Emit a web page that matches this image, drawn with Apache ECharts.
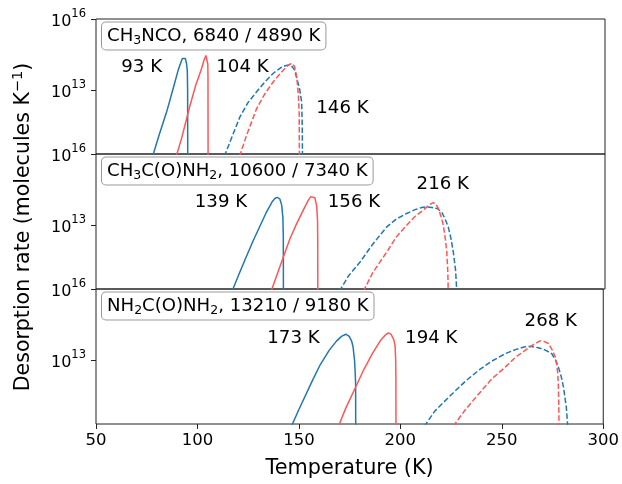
<!DOCTYPE html>
<html><head><meta charset="utf-8">
<script src="https://cdn.jsdelivr.net/npm/echarts@6/dist/echarts.min.js"></script>
<style>html,body{margin:0;padding:0;background:#fff}#c{width:622px;height:484px}</style>
</head><body><div id="c"></div>
<script>
// ---------- data ----------
const xTicks = [50, 100, 150, 200, 250, 300];
const yTickExponents = [13, 16];           // labelled decades (10^13, 10^16)
const yRange = [10.3, 16];                 // log10 of desorption rate
const panelTitles = [
  'CH{s|3}NCO, 6840 / 4890 K',
  'CH{s|3}C(O)NH{s|2}, 10600 / 7340 K',
  'NH{s|2}C(O)NH{s|2}, 13210 / 9180 K'
];
const peakLabels = [
  ['93 K', '104 K', '146 K'],
  ['139 K', '156 K', '216 K'],
  ['173 K', '194 K', '268 K']
];
// each point: [temperature (K), log10 desorption rate]
const p1BlueSolid = [[77.8,10.2],[81,11.1],[84.7,12.08],[88,13.1],[90.4,13.85],[91.5,14.12],[92.4,14.33],[93.2,14.40],[93.9,14.33],[94.5,14.1],[94.85,13.8],[95.0,13.0],[95.05,10.2]];
const p1RedSolid  = [[89.4,10.2],[92,10.95],[96.2,12.36],[99,13.2],[101.9,13.92],[103,14.25],[104,14.46],[104.6,14.38],[104.9,14.1],[105.0,13.6],[105.05,10.2]];
const p1BlueDash  = [[113.0,10.2],[116,10.85],[120.7,11.87],[124.5,12.45],[128.9,12.93],[133,13.35],[137.1,13.71],[140.5,13.93],[143,14.03],[144.5,14.06],[146,14.02],[147.5,13.85],[148.6,13.5],[150,13.05],[151,12.5],[151.3,11.5],[151.4,10.2]];
const p1RedDash   = [[120.5,10.2],[124,11.1],[128.9,12.22],[133,12.85],[137.1,13.35],[141,13.75],[144,14.02],[146.1,14.13],[147.5,14.0],[148.6,13.55],[149.4,12.8],[149.8,12.0],[149.9,10.2]];

const p2BlueSolid = [[116.8,10.2],[120,10.88],[123.5,11.6],[127.3,12.36],[130.5,12.95],[133.8,13.56],[136.5,13.98],[138,14.13],[139.1,14.17],[140.3,14.1],[141.2,13.84],[141.8,13.3],[142.0,12.5],[142.05,10.2]];
const p2RedSolid  = [[136,10.2],[140,11.17],[145.3,12.43],[148.5,13.05],[151.8,13.63],[154.3,14.05],[155.5,14.2],[156.4,14.24],[157.5,14.15],[158.4,13.8],[158.8,13.2],[158.9,12.4],[158.95,10.2]];
const p2BlueDash  = [[169.5,10.2],[174,10.85],[179.7,11.44],[186,12.2],[192.8,12.92],[197.5,13.25],[202.6,13.49],[207,13.66],[210,13.74],[212.4,13.77],[215,13.74],[217.5,13.7],[219.8,13.55],[221.5,13.25],[223,12.92],[224.3,12.45],[225.5,11.86],[226.6,11.1],[227.2,10.2]];
const p2RedDash   = [[181.3,10.2],[186,11.0],[192.8,11.86],[197.5,12.5],[202.6,12.99],[206.5,13.35],[210.8,13.63],[213.5,13.85],[215.7,13.95],[217,13.88],[218.1,13.7],[219.5,13.35],[220.6,13.0],[221.6,12.4],[222.3,11.86],[222.8,11.0],[223.0,10.2]];

const p3BlueSolid = [[146.3,10.2],[150,10.91],[156.7,12.14],[160.5,12.8],[164.9,13.41],[168.5,13.8],[171,14.0],[173.1,14.09],[174.8,14.0],[176,13.8],[176.7,13.55],[177.4,13.0],[177.7,12.56],[177.95,12.0],[178.0,10.2]];
const p3RedSolid  = [[169.5,10.2],[173,10.95],[178,11.86],[182,12.6],[186.2,13.27],[190,13.8],[192.5,14.05],[194.1,14.15],[195.5,14.08],[196.8,13.85],[197.4,13.6],[197.7,13.0],[197.8,12.2],[197.85,10.2]];
const p3BlueDash  = [[211.8,10.2],[217,10.85],[225.5,11.57],[232,12.1],[238.6,12.57],[245,12.95],[251.7,13.27],[257,13.45],[261,13.55],[264,13.58],[268,13.52],[271.5,13.42],[274.6,13.27],[276.5,13.0],[277.9,12.7],[279.3,12.3],[280.4,11.86],[281.8,11.0],[282.5,10.2]];
const p3RedDash   = [[226,10.2],[232,10.9],[238.6,11.57],[245,12.2],[251.7,12.7],[256.5,13.1],[261.5,13.41],[265.5,13.65],[268.9,13.81],[271,13.78],[273,13.7],[275,13.4],[276.3,13.14],[277.1,12.8],[277.6,12.42],[277.9,11.86],[278.1,11.0],[278.2,10.2]];

const panels = [
  [p1BlueSolid, p1RedSolid, p1BlueDash, p1RedDash],
  [p2BlueSolid, p2RedSolid, p2BlueDash, p2RedDash],
  [p3BlueSolid, p3RedSolid, p3BlueDash, p3RedDash]
];

// ---------- layout / style ----------
const FONT = "'DejaVu Sans', sans-serif";
const BLUE = '#1f77b4', RED = '#ff5656', FRAME = '#222';
const gridTops = [19, 154, 289], gridH = 135, gridLeft = 96, gridRight = 17;
const seriesStyles = [
  {color: BLUE, type: 'solid'}, {color: RED, type: 'solid'},
  {color: BLUE, type: [5.5, 2.4]}, {color: RED, type: [5.5, 2.4]}
];
const peakLabelPos = [
  [[141.7, 67.5], [242.5, 67.5], [342.5, 108]],
  [[221, 202.5], [354, 202.5], [442.8, 184.5]],
  [[293.5, 338.5], [431.3, 338.5], [550.8, 321]]
];

const chart = echarts.init(document.getElementById('c'), null, {renderer: 'canvas'});

const grid = gridTops.map(t => ({left: gridLeft, right: gridRight, top: t, height: gridH,
  show: true, borderColor: FRAME, borderWidth: 1, backgroundColor: 'transparent', containLabel: false}));

const xAxis = gridTops.map((t, i) => ({
  type: 'value', gridIndex: i, min: xTicks[0], max: xTicks[xTicks.length - 1], interval: 50,
  axisLine: {show: false}, splitLine: {show: false},
  axisTick: {show: i === 2, length: 5, lineStyle: {color: FRAME}},
  axisLabel: {show: i === 2, margin: 8, fontSize: 16.5, fontFamily: FONT, color: '#000',
    customValues: xTicks},
  name: i === 2 ? 'Temperature (K)' : '', nameLocation: 'middle', nameGap: 34,
  nameTextStyle: {fontSize: 20.8, fontFamily: FONT, color: '#000'}
}));

const yAxis = gridTops.map((t, i) => ({
  type: 'value', gridIndex: i, min: yRange[0], max: yRange[1],
  axisLine: {show: false}, splitLine: {show: false},
  axisTick: {show: true, length: 5, lineStyle: {color: FRAME}, customValues: yTickExponents},
  axisLabel: {show: true, margin: 10, customValues: yTickExponents, color: '#000',
    formatter: v => '{b|10}{e|' + v + '}',
    rich: {
      b: {fontSize: 16, fontFamily: FONT, color: '#000', lineHeight: 22, verticalAlign: 'bottom'},
      e: {fontSize: 11.5, fontFamily: FONT, color: '#000', lineHeight: 14, verticalAlign: 'top'}
    }}
}));

const series = [];
panels.forEach((curves, pi) => {
  curves.forEach((d, ci) => {
    series.push({
      type: 'line', xAxisIndex: pi, yAxisIndex: pi, data: d, showSymbol: false, symbol: 'none',
      smooth: false, clip: true, animation: false,
      lineStyle: {color: seriesStyles[ci].color, width: 1.5, type: seriesStyles[ci].type},
      z: 2
    });
  });
});

const graphic = [];
panelTitles.forEach((txt, i) => {
  graphic.push({
    type: 'text', left: 101, top: gridTops[i] + 2.5, z: 10,
    style: {
      text: txt, fontSize: 18.1, fontFamily: FONT, fill: '#000',
      backgroundColor: '#fff', borderColor: '#999', borderWidth: 1, borderRadius: 4,
      padding: [3, 5, 2, 5], lineHeight: 22,
      rich: {s: {fontSize: 12.5, fontFamily: FONT, fill: '#000', lineHeight: 12, verticalAlign: 'bottom'}}
    }
  });
});
peakLabels.forEach((row, i) => {
  row.forEach((txt, j) => {
    graphic.push({
      type: 'text', x: peakLabelPos[i][j][0], y: peakLabelPos[i][j][1], z: 10,
      style: {text: txt, fontSize: 18.2, fontFamily: FONT, fill: '#000', align: 'center', verticalAlign: 'middle'}
    });
  });
});
graphic.push({
  type: 'text', x: 24, y: 227, rotation: Math.PI / 2, z: 10,
  style: {
    text: 'Desorption rate (molecules K{e|−1})', fontSize: 20.5, fontFamily: FONT, fill: '#000',
    align: 'center', verticalAlign: 'middle', lineHeight: 26,
    rich: {e: {fontSize: 14.5, fontFamily: FONT, fill: '#000', lineHeight: 16, verticalAlign: 'top'}}
  }
});

chart.setOption({
  animation: false,
  backgroundColor: '#fff',
  grid, xAxis, yAxis, series, graphic
});
</script></body></html>
